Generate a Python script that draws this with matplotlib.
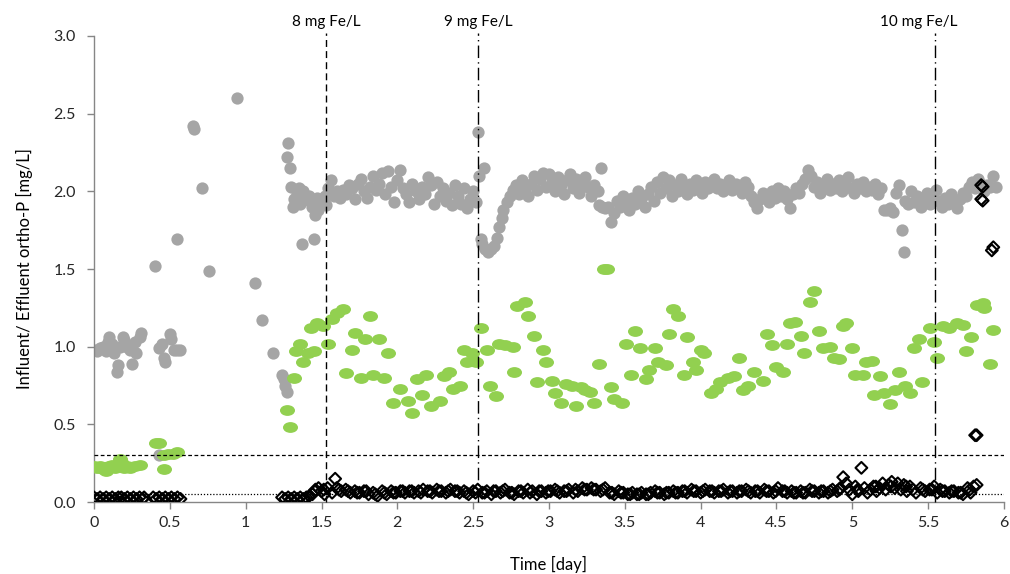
import matplotlib
matplotlib.use('Agg')
import matplotlib.pyplot as plt
from matplotlib.path import Path

# influent ortho-P (grey)
infX = [0.00, 0.02, 0.04, 0.06, 0.08, 0.09, 0.10, 0.12, 0.13, 0.15, 0.16, 0.17, 0.19, 0.20, 0.22, 0.24, 0.25, 0.27, 0.28, 0.30, 0.31,
        0.43, 0.45, 0.46, 0.47, 0.50, 0.51, 0.53, 0.55, 0.57, 0.43,
        0.40, 0.55, 0.65, 0.66, 0.71, 0.76, 0.94, 1.06, 1.11, 1.18,
        1.24, 1.25, 1.26, 1.27, 1.28, 1.27, 1.29, 1.37, 1.45,
        1.30, 1.31, 1.32, 1.34, 1.35, 1.36, 1.38, 1.40, 1.42, 1.43, 1.44, 1.46, 1.47, 1.48, 1.50, 1.52, 1.53, 1.54, 1.56, 1.58,
        1.60, 1.62, 1.64, 1.66, 1.68, 1.70, 1.72, 1.74, 1.76, 1.78, 1.80, 1.82, 1.84, 1.86, 1.88, 1.90, 1.92, 1.94, 1.96, 1.98,
        2.00, 2.02, 2.04, 2.06, 2.08, 2.10, 2.12, 2.14, 2.16, 2.18, 2.20, 2.22, 2.24, 2.26, 2.28, 2.30, 2.32, 2.34, 2.36, 2.38,
        2.40, 2.42, 2.44, 2.46, 2.48, 2.50, 2.52,
        2.53, 2.54, 2.57, 2.55, 2.56, 2.58, 2.60, 2.62, 2.64, 2.66, 2.67, 2.69, 2.70, 2.72, 2.74, 2.76,
        2.78, 2.80, 2.82, 2.84, 2.86, 2.88, 2.90, 2.92, 2.94, 2.96, 2.98, 3.00, 3.02, 3.04, 3.06, 3.08, 3.10, 3.12, 3.14, 3.16,
        3.18, 3.20, 3.22, 3.24, 3.26, 3.28, 3.30, 3.32,
        3.34, 3.33, 3.35, 3.37, 3.39, 3.41, 3.43, 3.45, 3.47, 3.49,
        3.51, 3.53, 3.55, 3.57, 3.59, 3.61, 3.63, 3.65, 3.67, 3.69, 3.71, 3.73, 3.75, 3.77, 3.79, 3.81, 3.83, 3.85, 3.87, 3.89,
        3.91, 3.93, 3.95, 3.97, 3.99,
        4.01, 4.03, 4.05, 4.07, 4.09, 4.11, 4.13, 4.15, 4.17, 4.19, 4.21, 4.23, 4.25, 4.27, 4.29, 4.31, 4.33, 4.35, 4.37, 4.39,
        4.41, 4.43, 4.45, 4.47, 4.49, 4.51, 4.53, 4.55, 4.57, 4.59, 4.61, 4.63, 4.65, 4.67,
        4.69, 4.71, 4.73, 4.75, 4.77, 4.79, 4.81, 4.83, 4.85, 4.87, 4.89, 4.91, 4.93, 4.95, 4.97, 4.99, 5.01, 5.03, 5.05, 5.07,
        5.09, 5.11, 5.13, 5.15, 5.17, 5.19,
        5.21, 5.23, 5.25, 5.27, 5.29, 5.31, 5.33, 5.34, 5.35, 5.37,
        5.39, 5.41, 5.43, 5.45, 5.47, 5.49, 5.51, 5.53, 5.55, 5.57, 5.59, 5.61, 5.63, 5.65, 5.67, 5.69, 5.71, 5.73, 5.75, 5.77,
        5.79, 5.81, 5.83, 5.85, 5.87, 5.89, 5.91, 5.93, 5.95]
infY = [0.98, 0.97, 0.99, 1.00, 0.97, 1.03, 1.06, 1.02, 0.96, 0.84, 0.88, 1.00, 1.06, 1.04, 1.00, 0.98, 0.89, 1.03, 0.96, 1.06, 1.09,
        0.99, 1.02, 0.93, 0.90, 1.08, 1.05, 0.98, 0.98, 0.98, 0.30,
        1.52, 1.69, 2.42, 2.40, 2.02, 1.49, 2.60, 1.41, 1.17, 0.96,
        0.82, 0.79, 0.75, 0.71, 2.31, 2.22, 2.15, 1.66, 1.69,
        2.03, 1.90, 1.95, 1.98, 2.02, 1.92, 2.00, 1.95, 1.97, 1.93, 1.90, 1.85, 1.96, 1.88, 1.93, 1.97, 1.91, 2.02, 2.07, 1.97,
        2.00, 1.96, 2.01, 1.98, 2.04, 2.02, 1.95, 2.05, 2.08, 2.00, 1.96, 2.03, 2.10, 2.01, 2.05, 2.12, 1.98, 2.13, 2.03, 1.93,
        2.07, 2.14, 2.02, 1.98, 1.93, 2.05, 2.00, 1.95, 2.03, 1.98, 2.09, 2.04, 1.92, 2.06, 1.97, 2.02, 1.94, 1.99, 1.91, 2.04,
        1.97, 1.92, 2.02, 1.89, 1.95, 2.00, 1.93,
        2.38, 2.10, 2.15, 1.69, 1.66, 1.63, 1.61, 1.63, 1.65, 1.70, 1.77, 1.83, 1.88, 1.93, 1.97, 2.01,
        2.04, 1.98, 2.07, 2.02, 1.97, 2.05, 2.10, 2.01, 2.08, 2.12, 2.03, 2.11, 2.06, 2.00, 2.09, 2.04, 1.98, 2.07, 2.11, 2.02,
        2.08, 1.99, 2.05, 2.09, 2.03, 1.97, 2.04, 2.00,
        2.15, 1.91, 1.90, 1.89, 1.90, 1.80, 1.86, 1.94, 1.90, 1.97,
        1.93, 1.88, 1.96, 1.92, 2.00, 1.95, 1.90, 1.98, 2.03, 1.94, 2.06, 1.99, 2.09, 2.02, 2.07, 1.97, 2.04, 2.00, 2.08, 2.03,
        1.98, 2.05, 2.01, 2.07, 2.03,
        1.99, 2.06, 2.02, 2.04, 2.08, 2.02, 2.05, 2.00, 2.03, 2.07, 2.01, 2.05, 2.02, 1.99, 2.06, 2.03, 1.97, 1.93, 1.89, 1.95,
        1.99, 1.97, 1.93, 2.00, 1.96, 2.02, 1.97, 2.00, 1.95, 1.89, 1.98, 2.02, 1.99, 2.05,
        2.08, 2.14, 2.10, 2.03, 2.06, 1.99, 2.04, 2.08, 2.01, 2.05, 2.02, 2.07, 2.00, 2.04, 2.09, 2.02, 1.99, 2.05, 2.02, 2.06,
        2.00, 2.03, 2.01, 2.05, 1.98, 2.02,
        1.88, 1.88, 1.89, 1.87, 1.99, 2.04, 1.75, 1.61, 1.94, 1.92,
        2.00, 1.93, 1.97, 1.90, 1.95, 1.99, 1.92, 1.96, 2.01, 1.94, 1.90, 1.96, 1.92, 1.98, 1.93, 1.89, 1.95, 1.99, 1.97, 2.03,
        2.06, 2.02, 2.08, 2.05, 2.00, 2.04, 2.03, 2.10, 2.03]

# effluent ortho-P (green)
effX = [0.00, 0.02, 0.04, 0.06, 0.08, 0.10, 0.12, 0.14, 0.17, 0.18, 0.20, 0.22, 0.24, 0.27, 0.30,
        0.41, 0.43, 0.46, 0.46, 0.49, 0.52, 0.55,
        1.27, 1.29, 1.32, 1.33, 1.36, 1.38, 1.41, 1.43, 1.45, 1.47, 1.51, 1.54, 1.57, 1.60, 1.64, 1.66, 1.70, 1.72,
        1.76, 1.79, 1.82, 1.84, 1.88, 1.91, 1.94, 1.97,
        2.02, 2.07, 2.10, 2.13, 2.16, 2.19, 2.22, 2.28, 2.31, 2.34, 2.37, 2.41, 2.44, 2.46, 2.49, 2.52, 2.55, 2.59, 2.61, 2.65,
        2.67, 2.71, 2.76, 2.77, 2.79, 2.84, 2.86, 2.90, 2.92, 2.96, 2.98, 3.02, 3.04, 3.08, 3.11, 3.15, 3.18, 3.21, 3.24, 3.27,
        3.30, 3.33, 3.36, 3.38, 3.41, 3.43, 3.48, 3.51, 3.54, 3.57, 3.60, 3.64, 3.66, 3.70, 3.72, 3.77, 3.79, 3.82, 3.85, 3.89,
        3.91, 3.95, 3.97,
        4.00, 4.02, 4.07, 4.10, 4.13, 4.18, 4.22, 4.25, 4.28, 4.31, 4.35, 4.41, 4.44, 4.47, 4.50, 4.54, 4.57, 4.59, 4.62, 4.66,
        4.68, 4.72, 4.75, 4.78, 4.81, 4.85, 4.88, 4.91, 4.94, 4.96, 5.00, 5.02, 5.07, 5.09, 5.13, 5.14, 5.18, 5.21, 5.25, 5.28,
        5.31, 5.35, 5.38, 5.41, 5.44, 5.46, 5.51, 5.54, 5.56, 5.60, 5.64, 5.69, 5.73, 5.75, 5.78, 5.82, 5.86, 5.87, 5.91, 5.93]
effY = [0.23, 0.22, 0.23, 0.21, 0.20, 0.23, 0.24, 0.22, 0.28, 0.26, 0.22, 0.23, 0.22, 0.23, 0.24,
        0.38, 0.38, 0.21, 0.30, 0.31, 0.31, 0.32,
        0.59, 0.48, 0.80, 0.97, 1.02, 0.90, 0.96, 1.12, 0.97, 1.15, 1.13, 1.02, 1.18, 1.22, 1.24, 0.83, 0.98, 1.09,
        0.80, 1.05, 1.20, 0.82, 1.05, 0.80, 0.96, 0.64,
        0.73, 0.65, 0.57, 0.79, 0.69, 0.82, 0.62, 0.65, 0.81, 0.84, 0.73, 0.75, 0.98, 0.90, 0.96, 0.90, 1.12, 0.98, 0.75, 0.68,
        1.02, 1.01, 1.00, 0.84, 1.26, 1.29, 1.20, 1.07, 0.77, 0.98, 0.90, 0.78, 0.70, 0.64, 0.76, 0.75, 0.62, 0.74, 0.72, 0.71,
        0.64, 0.89, 1.50, 1.50, 0.74, 0.66, 0.64, 1.02, 0.82, 1.10, 0.99, 0.79, 0.85, 0.99, 0.90, 0.88, 1.08, 1.24, 1.20, 0.82,
        1.06, 0.90, 0.85,
        0.98, 0.96, 0.70, 0.73, 0.77, 0.80, 0.81, 0.93, 0.72, 0.75, 0.84, 0.78, 1.08, 1.01, 0.87, 0.84, 1.02, 1.15, 1.16, 1.07,
        0.96, 1.29, 1.36, 1.10, 0.99, 1.00, 0.93, 0.92, 1.13, 1.15, 0.99, 0.82, 0.82, 0.90, 0.91, 0.69, 0.81, 0.70, 0.63, 0.72,
        0.84, 0.75, 0.70, 0.99, 1.05, 0.77, 1.12, 1.03, 0.93, 1.13, 1.12, 1.15, 1.14, 0.97, 1.06, 1.27, 1.28, 1.25, 0.89, 1.11]

# third series (black diamonds)
diaX = [0.00, 0.02, 0.04, 0.06, 0.08, 0.10, 0.12, 0.14, 0.16, 0.18, 0.20, 0.22, 0.24, 0.26, 0.28, 0.30, 0.32, 0.33,
        0.39, 0.41, 0.43, 0.45, 0.47, 0.49, 0.51, 0.53, 0.55, 0.57,
        1.24, 1.26, 1.28, 1.30, 1.32, 1.34, 1.36, 1.38, 1.40, 1.42,
        1.44, 1.46, 1.48, 1.50, 1.52, 1.54, 1.57, 1.59, 1.60, 1.63, 1.66, 1.69, 1.72, 1.75, 1.78, 1.81, 1.84, 1.87, 1.90, 1.93,
        1.96, 1.99, 2.02, 2.05, 2.08, 2.11, 2.14, 2.17, 2.20, 2.23, 2.26, 2.29, 2.32, 2.35, 2.38, 2.41, 2.44, 2.47, 2.50, 2.53,
        2.56, 2.59, 2.62, 2.65, 2.68, 2.71, 2.74, 2.77, 2.80, 2.83, 2.86, 2.89, 2.92, 2.95, 2.98, 3.01, 3.04, 3.07, 3.10, 3.13,
        3.16, 3.19, 3.22, 3.25, 3.28, 3.31, 3.34, 3.37, 3.40, 3.43, 3.46, 3.49, 3.52, 3.55, 3.58, 3.61, 3.64, 3.67, 3.70, 3.73,
        3.76, 3.79, 3.82, 3.85, 3.88, 3.91, 3.94, 3.97, 4.00, 4.03, 4.06, 4.09, 4.12, 4.15, 4.18, 4.21, 4.24, 4.27, 4.30, 4.33,
        4.36, 4.39, 4.42, 4.45, 4.48, 4.51, 4.54, 4.57, 4.60, 4.63, 4.66, 4.69, 4.72, 4.75, 4.78, 4.81, 4.84, 4.87, 4.90, 4.92,
        4.94, 4.96, 4.98, 5.00, 5.02, 5.04, 5.06, 5.08, 5.10, 5.12, 5.14, 5.16, 5.18, 5.20, 5.22, 5.24, 5.26, 5.28, 5.30, 5.32,
        5.34, 5.36, 5.38, 5.40, 5.42, 5.45, 5.48, 5.51, 5.54, 5.56, 5.58, 5.61, 5.64, 5.67, 5.70, 5.73, 5.76, 5.78, 5.80, 5.82,
        1.455, 1.515, 1.615, 1.675, 1.735, 1.795, 1.855, 1.915, 1.975, 2.035, 2.095, 2.155, 2.215, 2.275, 2.335, 2.395, 2.455,
        2.515, 2.575, 2.635, 2.695, 2.755, 2.815, 2.875, 2.935, 2.995, 3.055, 3.115, 3.175, 3.235, 3.295, 3.355, 3.415, 3.475,
        3.535, 3.595, 3.655, 3.715, 3.775, 3.835, 3.895, 3.955, 4.015, 4.075, 4.135, 4.195, 4.255, 4.315, 4.375, 4.435, 4.495,
        4.555, 4.615, 4.675, 4.735, 4.795, 4.855, 4.915, 5.035, 5.155, 5.255, 5.355, 5.465, 5.525, 5.595, 5.655, 5.715, 5.775,
        5.81, 5.82, 5.85, 5.86, 5.85, 5.86, 5.92, 5.93]
diaY = [0.03, 0.02, 0.03, 0.02, 0.03, 0.02, 0.03, 0.02, 0.03, 0.03, 0.02, 0.03, 0.02, 0.03, 0.02, 0.03, 0.02, 0.03,
        0.03, 0.02, 0.03, 0.02, 0.03, 0.02, 0.03, 0.02, 0.03, 0.02,
        0.03, 0.02, 0.03, 0.02, 0.03, 0.02, 0.03, 0.02, 0.03, 0.04,
        0.05, 0.08, 0.09, 0.07, 0.05, 0.09, 0.06, 0.15, 0.09, 0.07, 0.08, 0.06, 0.07, 0.06, 0.07, 0.05, 0.06, 0.04, 0.07, 0.05,
        0.07, 0.06, 0.07, 0.06, 0.07, 0.06, 0.07, 0.08, 0.07, 0.06, 0.08, 0.07, 0.06, 0.08, 0.07, 0.06, 0.07, 0.05, 0.07, 0.08,
        0.06, 0.07, 0.05, 0.07, 0.06, 0.08, 0.06, 0.05, 0.07, 0.06, 0.08, 0.07, 0.05, 0.07, 0.06, 0.07, 0.08, 0.06, 0.07, 0.08,
        0.06, 0.07, 0.09, 0.08, 0.09, 0.08, 0.07, 0.09, 0.06, 0.05, 0.07, 0.06, 0.05, 0.06, 0.05, 0.06, 0.05, 0.06, 0.07, 0.06,
        0.05, 0.06, 0.07, 0.06, 0.07, 0.06, 0.08, 0.07, 0.06, 0.08, 0.07, 0.06, 0.07, 0.08, 0.06, 0.07, 0.06, 0.07, 0.08, 0.06,
        0.07, 0.06, 0.08, 0.07, 0.06, 0.09, 0.07, 0.06, 0.07, 0.06, 0.07, 0.06, 0.08, 0.07, 0.06, 0.07, 0.06, 0.08, 0.07, 0.09,
        0.16, 0.12, 0.08, 0.05, 0.10, 0.07, 0.22, 0.09, 0.06, 0.08, 0.10, 0.07, 0.09, 0.12, 0.08, 0.11, 0.13, 0.09, 0.12, 0.08,
        0.11, 0.07, 0.10, 0.08, 0.06, 0.09, 0.07, 0.08, 0.10, 0.06, 0.08, 0.07, 0.06, 0.07, 0.06, 0.05, 0.09, 0.06, 0.10, 0.11,
        0.07, 0.08, 0.08, 0.07, 0.06, 0.07, 0.05, 0.06, 0.06, 0.07, 0.07, 0.06, 0.07, 0.07, 0.07, 0.07, 0.06,
        0.06, 0.06, 0.07, 0.07, 0.06, 0.07, 0.06, 0.07, 0.07, 0.07, 0.07, 0.08, 0.08, 0.08, 0.08, 0.06, 0.06,
        0.05, 0.05, 0.05, 0.06, 0.06, 0.06, 0.07, 0.07, 0.07, 0.07, 0.07, 0.07, 0.07, 0.07, 0.07, 0.07, 0.07,
        0.07, 0.06, 0.06, 0.07, 0.07, 0.07, 0.08, 0.08, 0.10, 0.10, 0.10, 0.08, 0.08, 0.07, 0.07, 0.06, 0.08,
        0.43, 0.43, 2.04, 2.03, 1.95, 1.94, 1.62, 1.64]

# dosing changes
doseX = [1.53, 2.535, 5.545]
doseLabelX = [1.53, 2.535, 5.44]
doseLabels = ['8 mg Fe/L', '9 mg Fe/L', '10 mg Fe/L']
doseStyles = [(0, (5, 3)), (0, (9, 3, 1, 3)), (0, (9, 3, 1, 3))]

limits = [0.3, 0.05]
limitStyles = [(0, (3, 2)), (0, (1, 1.5))]

plt.rcParams['font.family'] = ['Lato', 'DejaVu Sans']
plt.rcParams['font.size'] = 11.5

fig = plt.figure(figsize=(10.1, 5.74), dpi=100)
ax = fig.add_axes([0.0931, 0.1254, 0.9009, 0.8119])

circ = Path.unit_circle()
ellipse = Path(circ.vertices * [1.0, 0.72], circ.codes)

ax.scatter(infX, infY, s=78, marker='o', color='#a5a5a5', linewidths=0, zorder=2)
ax.scatter(effX, effY, s=117, marker=ellipse, color='#92d050', linewidths=0, zorder=3)
ax.scatter(diaX, diaY, s=36, marker='D', facecolors='none', edgecolors='black', linewidths=1.5, zorder=4)

for y, ls in zip(limits, limitStyles):
  ax.plot([0, 6], [y, y], color='black', lw=0.9, linestyle=ls, zorder=5)

for x, ls in zip(doseX, doseStyles):
  ax.plot([x, x], [0, 3.02], color='black', lw=1.0, linestyle=ls, zorder=5, clip_on=False)
for x, lab in zip(doseLabelX, doseLabels):
  ax.text(x, 3.09, lab, ha='center', va='center', fontsize=11, color='black')

ax.set_xlim(0, 6)
ax.set_ylim(0, 3.0)
ax.set_xticks([0, 0.5, 1, 1.5, 2, 2.5, 3, 3.5, 4, 4.5, 5, 5.5, 6])
ax.set_xticklabels(['0', '0.5', '1', '1.5', '2', '2.5', '3', '3.5', '4', '4.5', '5', '5.5', '6'])
ax.set_yticks([0, 0.5, 1.0, 1.5, 2.0, 2.5, 3.0])
ax.set_yticklabels(['0.0', '0.5', '1.0', '1.5', '2.0', '2.5', '3.0'])
ax.set_xlabel('Time [day]', fontsize=12, labelpad=19)
ax.set_ylabel('Influent/ Effluent ortho-P [mg/L]', fontsize=12, labelpad=15)

for side in ['top', 'right']:
  ax.spines[side].set_visible(False)
for side in ['left', 'bottom']:
  ax.spines[side].set_color('#868686')
  ax.spines[side].set_linewidth(1.0)
ax.tick_params(direction='out', length=5, width=1.0, color='#868686', labelcolor='#262626')
ax.tick_params(axis='y', pad=8)
ax.tick_params(axis='x', pad=5)

plt.savefig('out.png', dpi=100)
plt.close()
